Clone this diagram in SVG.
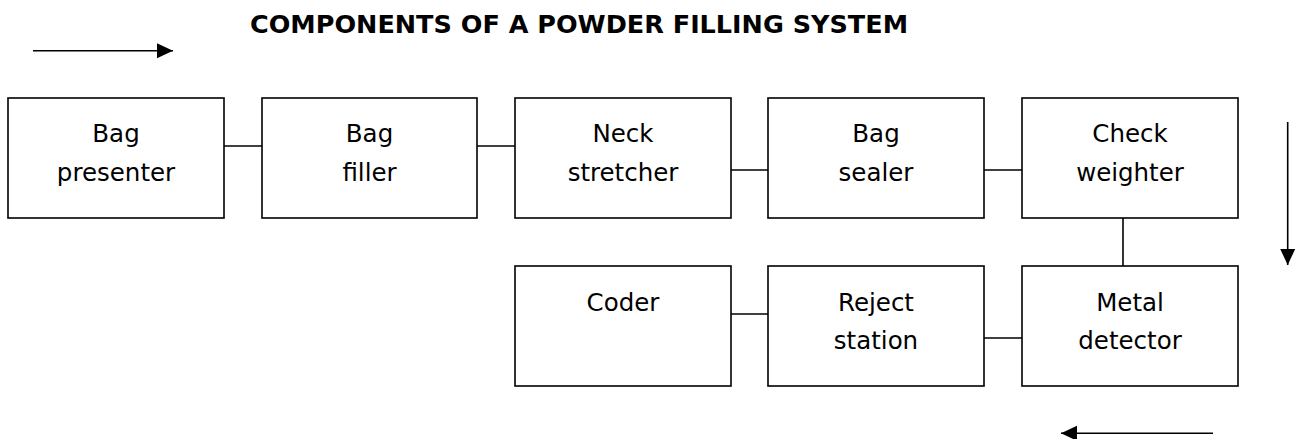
<svg xmlns="http://www.w3.org/2000/svg" width="1301" height="439" viewBox="0 0 1301 439">
<style>
.box{fill:#fff;stroke:#000;stroke-width:1.6}
.lbl{font-family:"DejaVu Sans",Verdana,sans-serif;font-size:24.5px;fill:#000;text-anchor:middle}
.title{font-family:"DejaVu Sans",Verdana,sans-serif;font-size:24.5px;font-weight:bold;fill:#000}
.con{stroke:#000;stroke-width:1.6;fill:none}
.flow{stroke:#000;stroke-width:1.6;fill:none}
</style>
<defs>
<marker id="ahb" viewBox="0 0 16 16" refX="16" refY="8" markerWidth="16" markerHeight="16" markerUnits="userSpaceOnUse" orient="auto">
<path d="M0,0.5 L16,8 L0,15.5 z" fill="#000"/>
</marker>
</defs>
<text class="title" x="250" y="33" textLength="658" lengthAdjust="spacingAndGlyphs">COMPONENTS OF A POWDER FILLING SYSTEM</text>
<g id="flow-arrows">
<line class="flow" x1="33" y1="50.7" x2="173" y2="50.7" marker-end="url(#ahb)"/>
<line class="flow" x1="1287.7" y1="122" x2="1287.7" y2="265" marker-end="url(#ahb)"/>
<line class="flow" x1="1213" y1="433.3" x2="1061" y2="433.3" marker-end="url(#ahb)"/>
</g>
<g id="connectors">
<line class="con" x1="224" y1="146" x2="262" y2="146"/>
<line class="con" x1="477" y1="146" x2="515" y2="146"/>
<line class="con" x1="731" y1="170" x2="768" y2="170"/>
<line class="con" x1="984" y1="170" x2="1022" y2="170"/>
<line class="con" x1="1123" y1="218" x2="1123" y2="266"/>
<line class="con" x1="731" y1="314" x2="768" y2="314"/>
<line class="con" x1="984" y1="338" x2="1022" y2="338"/>
</g>
<g id="bag-presenter">
<rect class="box" x="8" y="98" width="216" height="120"/>
<text class="lbl" x="116" y="142">Bag</text>
<text class="lbl" x="116" y="181">presenter</text>
</g>
<g id="bag-filler">
<rect class="box" x="262" y="98" width="215" height="120"/>
<text class="lbl" x="369.5" y="142">Bag</text>
<text class="lbl" x="369.5" y="181">filler</text>
</g>
<g id="neck-stretcher">
<rect class="box" x="515" y="98" width="216" height="120"/>
<text class="lbl" x="623" y="142">Neck</text>
<text class="lbl" x="623" y="181">stretcher</text>
</g>
<g id="bag-sealer">
<rect class="box" x="768" y="98" width="216" height="120"/>
<text class="lbl" x="876" y="142">Bag</text>
<text class="lbl" x="876" y="181">sealer</text>
</g>
<g id="check-weighter">
<rect class="box" x="1022" y="98" width="216" height="120"/>
<text class="lbl" x="1130" y="142">Check</text>
<text class="lbl" x="1130" y="181">weighter</text>
</g>
<g id="coder">
<rect class="box" x="515" y="266" width="216" height="120"/>
<text class="lbl" x="623" y="311">Coder</text>
</g>
<g id="reject-station">
<rect class="box" x="768" y="266" width="216" height="120"/>
<text class="lbl" x="876" y="311">Reject</text>
<text class="lbl" x="876" y="349">station</text>
</g>
<g id="metal-detector">
<rect class="box" x="1022" y="266" width="216" height="120"/>
<text class="lbl" x="1130" y="311">Metal</text>
<text class="lbl" x="1130" y="349">detector</text>
</g>
</svg>
